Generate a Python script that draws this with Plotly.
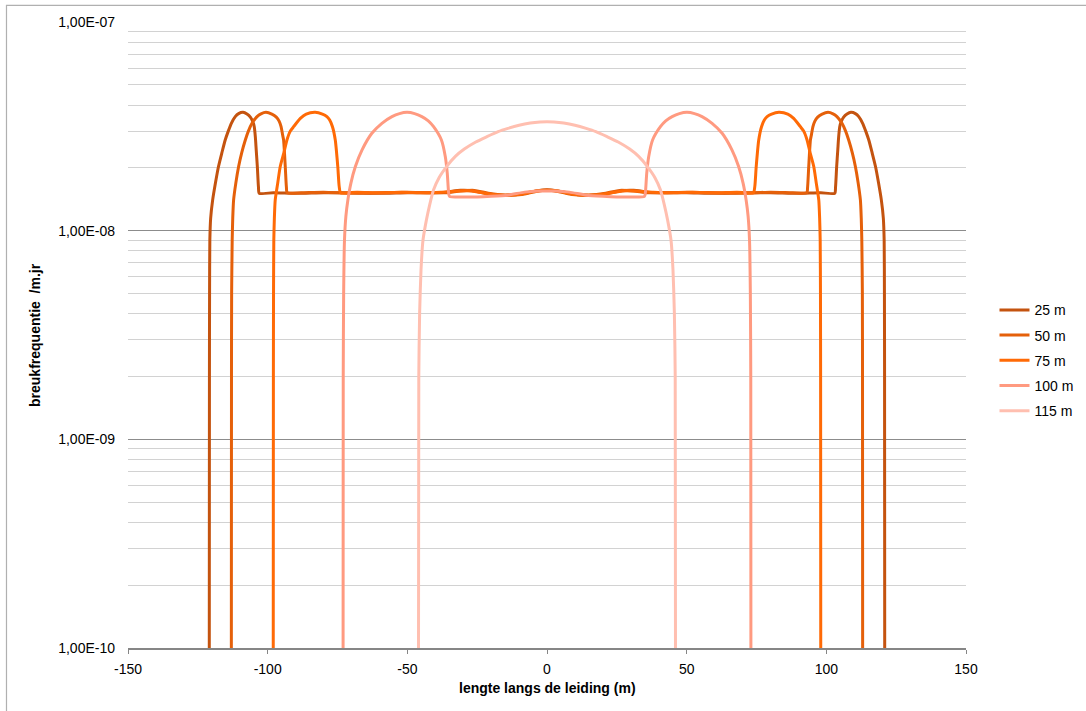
import plotly.graph_objects as go

# Afstand langs de leiding (m) en breukfrequentie (/m.jr), per diepte
x_25 = [-120.9, -120.85, -120.8, -120.7, -120.4, -119.7, -118.7, -117.6, -116.4, -115.2,
        -114.1, -113.0, -111.6, -110.4, -108.8, -107.4, -106.2, -105.3, -104.8, -104.4,
        -104.1, -103.7, -103.3, -103.0, -98.0, -90.0, -80.0, -70.0, -60.0, -50.0,
        -42.0, -36.0, -31.0, -26.0, -21.0, -15.0, -9.0, -4.0, 0.0,
        4.0, 9.0, 15.0, 21.0, 26.0, 31.0, 36.0, 42.0, 50.0, 60.0,
        70.0, 80.0, 90.0, 98.0, 103.0, 103.3, 103.7, 104.1, 104.4, 104.8,
        105.3, 106.2, 107.4, 108.8, 110.4, 111.6, 113.0, 114.1, 115.2, 116.4,
        117.6, 118.7, 119.7, 120.4, 120.7, 120.8, 120.85, 120.9]
f_25 = [1.0e-10, 2.0e-9, 5.0e-9, 9.0e-9, 1.15e-8, 1.40e-8, 1.69e-8, 2.03e-8, 2.36e-8, 2.72e-8,
        3.00e-8, 3.27e-8, 3.52e-8, 3.64e-8, 3.69e-8, 3.62e-8, 3.50e-8, 3.32e-8, 3.15e-8, 2.80e-8,
        2.44e-8, 2.03e-8, 1.62e-8, 1.51e-8, 1.52e-8, 1.51e-8, 1.52e-8, 1.52e-8, 1.51e-8, 1.52e-8,
        1.52e-8, 1.53e-8, 1.56e-8, 1.55e-8, 1.50e-8, 1.48e-8, 1.50e-8, 1.55e-8, 1.57e-8,
        1.55e-8, 1.50e-8, 1.48e-8, 1.50e-8, 1.55e-8, 1.56e-8, 1.53e-8, 1.52e-8, 1.52e-8, 1.51e-8,
        1.52e-8, 1.52e-8, 1.51e-8, 1.52e-8, 1.51e-8, 1.62e-8, 2.03e-8, 2.44e-8, 2.80e-8, 3.15e-8,
        3.32e-8, 3.50e-8, 3.62e-8, 3.69e-8, 3.64e-8, 3.52e-8, 3.27e-8, 3.00e-8, 2.72e-8, 2.36e-8,
        2.03e-8, 1.69e-8, 1.40e-8, 1.15e-8, 9.0e-9, 5.0e-9, 2.0e-9, 1.0e-10]

x_50 = [-113.0, -112.95, -112.9, -112.7, -112.5, -112.2, -111.4, -110.4, -109.3, -108.0,
        -106.9, -105.6, -103.8, -102.4, -100.6, -98.5, -96.9, -95.9, -95.2, -94.7,
        -94.3, -93.7, -93.3, -93.0, -88.0, -80.0, -70.0, -60.0, -50.0, -42.0,
        -36.0, -31.0, -26.0, -21.0, -15.0, -9.0, -4.0, 0.0,
        4.0, 9.0, 15.0, 21.0, 26.0, 31.0, 36.0, 42.0, 50.0, 60.0,
        70.0, 80.0, 88.0, 93.0, 93.3, 93.7, 94.3, 94.7, 95.2, 95.9,
        96.9, 98.5, 100.6, 102.4, 103.8, 105.6, 106.9, 108.0, 109.3, 110.4,
        111.4, 112.2, 112.5, 112.7, 112.9, 112.95, 113.0]
f_50 = [1.0e-10, 2.0e-9, 5.0e-9, 9.0e-9, 1.15e-8, 1.40e-8, 1.69e-8, 2.03e-8, 2.36e-8, 2.72e-8,
        3.00e-8, 3.27e-8, 3.52e-8, 3.63e-8, 3.69e-8, 3.62e-8, 3.50e-8, 3.35e-8, 3.15e-8, 2.90e-8,
        2.72e-8, 2.03e-8, 1.62e-8, 1.52e-8, 1.52e-8, 1.53e-8, 1.51e-8, 1.52e-8, 1.53e-8, 1.52e-8,
        1.52e-8, 1.55e-8, 1.56e-8, 1.51e-8, 1.48e-8, 1.49e-8, 1.54e-8, 1.56e-8,
        1.54e-8, 1.49e-8, 1.48e-8, 1.51e-8, 1.56e-8, 1.55e-8, 1.52e-8, 1.52e-8, 1.53e-8, 1.52e-8,
        1.51e-8, 1.53e-8, 1.52e-8, 1.52e-8, 1.62e-8, 2.03e-8, 2.72e-8, 2.90e-8, 3.15e-8, 3.35e-8,
        3.50e-8, 3.62e-8, 3.69e-8, 3.63e-8, 3.52e-8, 3.27e-8, 3.00e-8, 2.72e-8, 2.36e-8, 2.03e-8,
        1.69e-8, 1.40e-8, 1.15e-8, 9.0e-9, 5.0e-9, 2.0e-9, 1.0e-10]

x_75 = [-98.0, -97.95, -97.9, -97.8, -97.6, -97.3, -96.4, -95.5, -94.2, -93.1,
        -91.9, -90.7, -88.3, -86.2, -83.0, -80.4, -78.8, -77.8, -76.8, -75.8,
        -74.9, -74.4, -73.9, -68.0, -60.0, -52.0, -44.0, -38.0, -32.0, -27.0,
        -21.0, -15.0, -9.0, -4.0, 0.0,
        4.0, 9.0, 15.0, 21.0, 27.0, 32.0, 38.0, 44.0, 52.0, 60.0,
        68.0, 73.9, 74.4, 74.9, 75.8, 76.8, 77.8, 78.8, 80.4, 83.0,
        86.2, 88.3, 90.7, 91.9, 93.1, 94.2, 95.5, 96.4, 97.3, 97.6,
        97.8, 97.9, 97.95, 98.0]
f_75 = [1.0e-10, 2.0e-9, 5.0e-9, 9.0e-9, 1.15e-8, 1.40e-8, 1.69e-8, 2.03e-8, 2.36e-8, 2.72e-8,
        3.00e-8, 3.15e-8, 3.45e-8, 3.62e-8, 3.69e-8, 3.62e-8, 3.52e-8, 3.39e-8, 3.15e-8, 2.72e-8,
        2.03e-8, 1.63e-8, 1.52e-8, 1.53e-8, 1.52e-8, 1.53e-8, 1.52e-8, 1.53e-8, 1.55e-8, 1.55e-8,
        1.50e-8, 1.48e-8, 1.50e-8, 1.55e-8, 1.56e-8,
        1.55e-8, 1.50e-8, 1.48e-8, 1.50e-8, 1.55e-8, 1.55e-8, 1.53e-8, 1.52e-8, 1.53e-8, 1.52e-8,
        1.53e-8, 1.52e-8, 1.63e-8, 2.03e-8, 2.72e-8, 3.15e-8, 3.39e-8, 3.52e-8, 3.62e-8, 3.69e-8,
        3.62e-8, 3.45e-8, 3.15e-8, 3.00e-8, 2.72e-8, 2.36e-8, 2.03e-8, 1.69e-8, 1.40e-8, 1.15e-8,
        9.0e-9, 5.0e-9, 2.0e-9, 1.0e-10]

x_100 = [-73.0, -72.95, -72.8, -72.5, -72.0, -71.3, -70.2, -68.6, -66.2, -62.7,
         -59.1, -55.5, -52.8, -50.1, -47.4, -44.8, -42.5, -40.6, -37.8, -36.4,
         -35.7, -35.2, -34.9, -30.0, -25.0, -20.0, -14.0, -8.0, -3.0, 0.0,
         3.0, 8.0, 14.0, 20.0, 25.0, 30.0, 34.9, 35.2, 35.7, 36.4,
         37.8, 40.6, 42.5, 44.8, 47.4, 50.1, 52.8, 55.5, 59.1, 62.7,
         66.2, 68.6, 70.2, 71.3, 72.0, 72.5, 72.8, 72.95, 73.0]
f_100 = [1.0e-10, 2.0e-9, 5.0e-9, 9.0e-9, 1.17e-8, 1.40e-8, 1.69e-8, 2.03e-8, 2.44e-8, 2.93e-8,
         3.27e-8, 3.52e-8, 3.64e-8, 3.69e-8, 3.64e-8, 3.52e-8, 3.36e-8, 3.15e-8, 2.72e-8, 2.26e-8,
         1.88e-8, 1.51e-8, 1.46e-8, 1.45e-8, 1.45e-8, 1.46e-8, 1.48e-8, 1.53e-8, 1.55e-8, 1.55e-8,
         1.55e-8, 1.53e-8, 1.48e-8, 1.46e-8, 1.45e-8, 1.45e-8, 1.46e-8, 1.51e-8, 1.88e-8, 2.26e-8,
         2.72e-8, 3.15e-8, 3.36e-8, 3.52e-8, 3.64e-8, 3.69e-8, 3.64e-8, 3.52e-8, 3.27e-8, 2.93e-8,
         2.44e-8, 2.03e-8, 1.69e-8, 1.40e-8, 1.17e-8, 9.0e-9, 5.0e-9, 2.0e-9, 1.0e-10]

x_115 = [-46.0, -45.9, -45.6, -45.1, -44.4, -43.2, -42.0, -40.6, -38.6, -35.8,
         -32.8, -29.6, -25.5, -21.5, -17.5, -14.0, -10.0, -6.0, -2.5, 0.0,
         2.5, 6.0, 10.0, 14.0, 17.5, 21.5, 25.5, 29.6, 32.8, 35.8,
         38.6, 40.6, 42.0, 43.2, 44.4, 45.1, 45.6, 45.9, 46.0]
f_115 = [1.0e-10, 2.0e-9, 4.0e-9, 6.5e-9, 9.0e-9, 1.12e-8, 1.33e-8, 1.57e-8, 1.80e-8, 2.04e-8,
         2.27e-8, 2.46e-8, 2.66e-8, 2.82e-8, 2.98e-8, 3.09e-8, 3.20e-8, 3.28e-8, 3.32e-8, 3.33e-8,
         3.32e-8, 3.28e-8, 3.20e-8, 3.09e-8, 2.98e-8, 2.82e-8, 2.66e-8, 2.46e-8, 2.27e-8, 2.04e-8,
         1.80e-8, 1.57e-8, 1.33e-8, 1.12e-8, 9.0e-9, 6.5e-9, 4.0e-9, 2.0e-9, 1.0e-10]

series_names = ["25 m", "50 m", "75 m", "100 m", "115 m"]
series_x = [x_25, x_50, x_75, x_100, x_115]
series_f = [f_25, f_50, f_75, f_100, f_115]
series_colors = ["#C4530F", "#E5600A", "#FF6A06", "#FF9A80", "#FFBFB0"]

x_ticks = [-150, -100, -50, 0, 50, 100, 150]
x_ticktext = ["-150", "-100", "-50", "0", "50", "100", "150"]
y_ticks = [1e-10, 1e-9, 1e-8, 1e-7]
y_ticktext = ["1,00E-10", "1,00E-09", "1,00E-08", "1,00E-07"]
y_minor = [m * 10.0 ** e for e in (-10, -9, -8) for m in range(2, 10)]

FONT = "Liberation Sans, Arial, sans-serif"
FSIZE = 14

fig = go.Figure()
for i, (name, xs, fs, col) in enumerate(zip(series_names, series_x, series_f, series_colors)):
    fig.add_trace(go.Scatter(
        x=xs, y=fs, name=name, mode="lines",
        line=dict(color=col, width=3, shape="spline", smoothing=0.6),
        legendgroup=f"g{i}",
    ))

fig.update_layout(
    width=1086, height=711,
    margin=dict(l=128, r=120, t=22, b=63, autoexpand=False),
    paper_bgcolor="white", plot_bgcolor="white",
    font=dict(family=FONT, size=FSIZE, color="#000000"),
    legend=dict(
        x=1.034, xanchor="left", y=0.565, yanchor="top",
        bgcolor="rgba(0,0,0,0)", borderwidth=0,
        tracegroupgap=4, itemwidth=30,
        font=dict(family=FONT, size=FSIZE, color="#000000"),
    ),
    xaxis=dict(
        range=[-150, 150], tickmode="array", tickvals=x_ticks, ticktext=x_ticktext,
        ticks="outside", ticklen=4, tickcolor="#868686",
        showgrid=False, zeroline=False,
        showline=True, linecolor="#868686", linewidth=1.5,
        ticklabelstandoff=3,
    ),
    yaxis=dict(
        type="log", range=[-10, -7],
        tickmode="array", tickvals=y_ticks, ticktext=y_ticktext,
        ticks="", showgrid=True, gridcolor="#8c8c8c", gridwidth=1,
        minor=dict(tickmode="array", tickvals=y_minor, showgrid=True,
                   gridcolor="#d2d2d2", gridwidth=1, ticks=""),
        zeroline=False, showline=False,
        ticklabelstandoff=12,
    ),
    annotations=[
        dict(text="<b>lengte langs de leiding (m)</b>", xref="paper", yref="paper",
             x=0.5, y=-0.064, xanchor="center", yanchor="middle", showarrow=False,
             font=dict(family=FONT, size=FSIZE, color="#000000")),
        dict(text="<b>breukfrequentie \u00a0/m.jr</b>", xref="paper", yref="paper",
             x=-0.111, y=0.5, xanchor="center", yanchor="middle", showarrow=False,
             textangle=-90, font=dict(family=FONT, size=FSIZE, color="#000000")),
    ],
    shapes=[
        dict(type="rect", xref="paper", yref="paper",
             x0=-0.145, x1=1.4, y0=-0.4, y1=1.0264,
             line=dict(color="#b0b0b0", width=1.2), fillcolor="rgba(0,0,0,0)", layer="below"),
    ],
)

fig.write_html("out.html")
